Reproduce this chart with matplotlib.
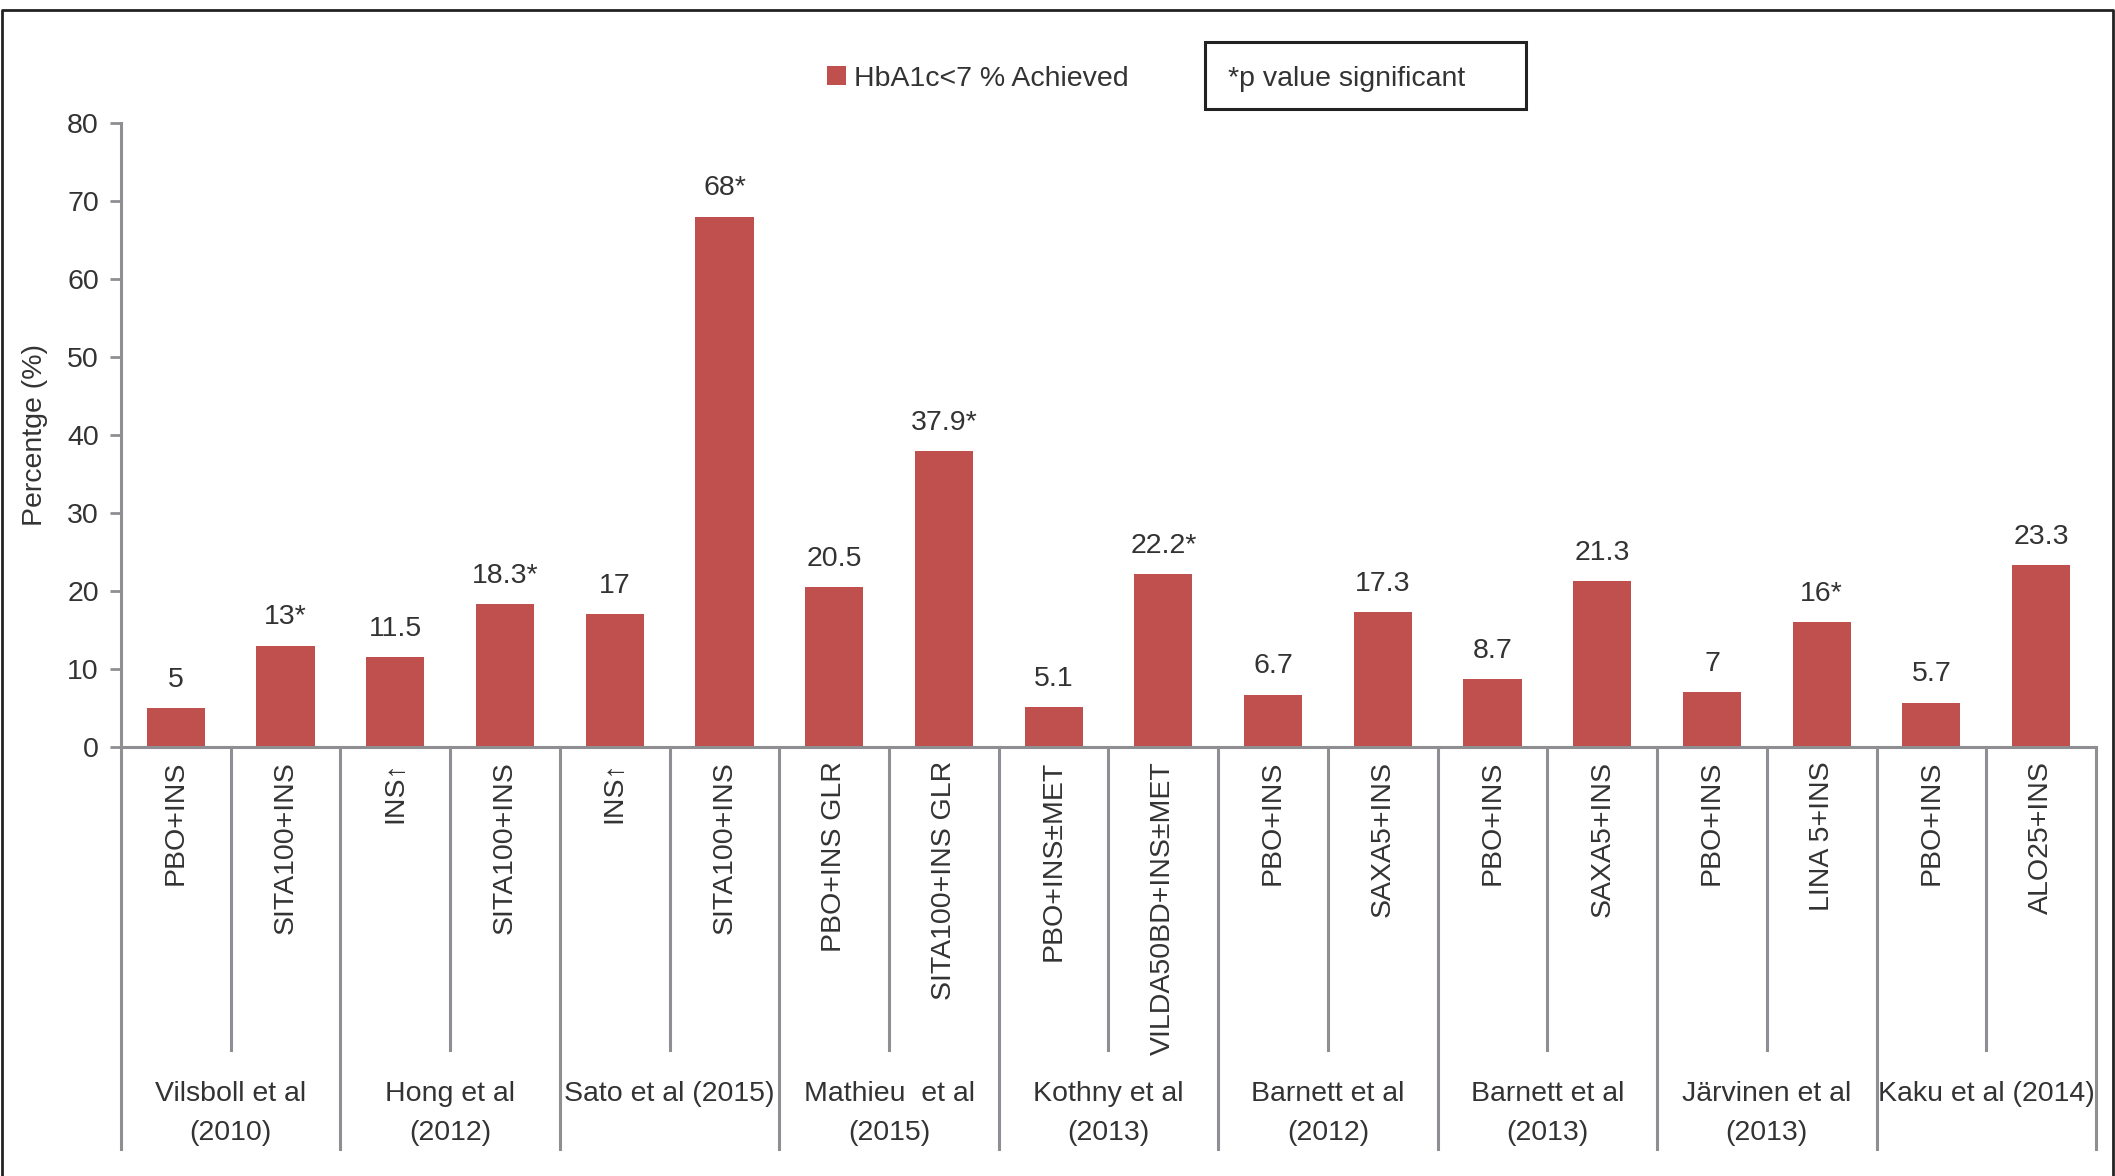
import matplotlib.pyplot as plt
from matplotlib.patches import Rectangle
from matplotlib.lines import Line2D
from matplotlib.transforms import blended_transform_factory

# data
arms = ["PBO+INS", "SITA100+INS", "INS\u2191", "SITA100+INS", "INS\u2191", "SITA100+INS",
        "PBO+INS GLR", "SITA100+INS GLR", "PBO+INS\u00b1MET", "VILDA50BD+INS\u00b1MET",
        "PBO+INS", "SAXA5+INS", "PBO+INS", "SAXA5+INS", "PBO+INS", "LINA 5+INS",
        "PBO+INS", "ALO25+INS"]
values = [5, 13, 11.5, 18.3, 17, 68, 20.5, 37.9, 5.1, 22.2,
          6.7, 17.3, 8.7, 21.3, 7, 16, 5.7, 23.3]
value_labels = ["5", "13*", "11.5", "18.3*", "17", "68*", "20.5", "37.9*", "5.1", "22.2*",
                "6.7", "17.3", "8.7", "21.3", "7", "16*", "5.7", "23.3"]
studies = ["Vilsboll et al\n(2010)", "Hong et al\n(2012)", "Sato et al (2015)",
           "Mathieu  et al\n(2015)", "Kothny et al\n(2013)", "Barnett et al\n(2012)",
           "Barnett et al\n(2013)", "J\u00e4rvinen et al\n(2013)", "Kaku et al (2014)"]

bar_color = "#C0504D"
axis_gray = "#8E8E93"
text_col = "#333333"

plt.rcParams['font.family'] = ['Liberation Sans', 'DejaVu Sans']
plt.rcParams['font.size'] = 20.5

fig = plt.figure(figsize=(21.15, 11.76), dpi=100)
ax = fig.add_axes([0.0572, 0.3648, 0.9338, 0.5306])

x = list(range(len(values)))
bars = ax.bar(x, values, width=0.53, color=bar_color, label="HbA1c<7 % Achieved")
for xi, v, lab in zip(x, values, value_labels):
    ax.annotate(lab, (xi, v), xytext=(0, 11), textcoords="offset points",
                ha="center", va="bottom", color=text_col)

ax.set_xlim(-0.5, len(values) - 0.5)
ax.set_ylim(0, 80)
ax.set_yticks(range(0, 81, 10))
ax.tick_params(axis="y", length=8, width=2, color=axis_gray, labelcolor=text_col, pad=8)
ax.set_xticks(x, arms, rotation=90)
ax.tick_params(axis="x", length=0, pad=10, labelcolor=text_col)
for s in ["top", "right"]:
    ax.spines[s].set_visible(False)
for s in ["left", "bottom"]:
    ax.spines[s].set_color(axis_gray)
    ax.spines[s].set_linewidth(2.2)
ax.set_ylabel("Percentge (%)", color=text_col, labelpad=14)

# separators below the axis
trans = blended_transform_factory(ax.transData, ax.transAxes)
for i in range(len(values) + 1):
    b = i - 0.5
    bottom = -0.644 if i % 2 == 0 else -0.486
    ax.add_line(Line2D([b, b], [0, bottom], transform=trans, color=axis_gray,
                       lw=2.2, clip_on=False))
for g, name in enumerate(studies):
    ax.text(2 * g + 0.5, -0.535, name, transform=trans, ha="center", va="top",
            linespacing=1.68, color=text_col)

# legend and note box
fig.legend(handles=[bars], loc="center", bbox_to_anchor=(0.4625, 0.933), frameon=False,
           handlelength=0.65, handleheight=0.65, handletextpad=0.3, labelcolor=text_col)
fig.patches.append(Rectangle((0.5697, 0.9073), 0.1518, 0.057, transform=fig.transFigure,
                             fill=False, edgecolor="#222222", lw=2.2))
fig.text(0.5806, 0.933, "*p value significant", ha="left", va="center", color=text_col)

# outer frame (left, top, right)
fig.add_artist(Line2D([0.001, 0.001, 0.999, 0.999], [0.0, 0.9915, 0.9915, 0.0],
                      transform=fig.transFigure, color="#222222", lw=2))

fig.savefig("out.png", dpi=100)
